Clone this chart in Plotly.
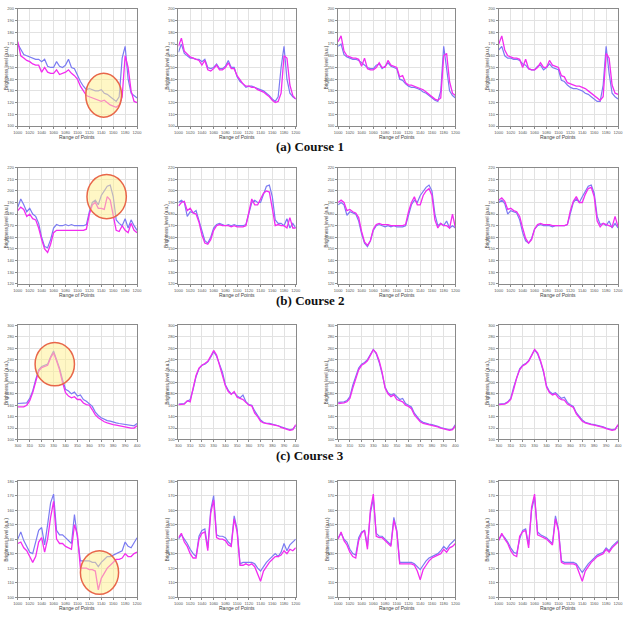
import plotly.graph_objects as go
from plotly.subplots import make_subplots

# ---------------- data ----------------
x_course1 = list(range(1000, 1201, 5))
x_course2 = list(range(1000, 1201, 5))
x_course3 = [300 + 2.5 * i for i in range(41)]
x_course4 = list(range(1000, 1201, 5))

c1_p1_blue = [170,165,161,160,159,158,157,157,155,157,151,150,150,155,151,150,152,157,150,149,143,138,134,131,132,131,130,130,131,128,127,125,123,121,125,158,168,140,128,126,124]
c1_p1_mag  = [172,160,158,156,155,153,152,152,146,150,146,145,145,148,144,145,146,148,145,143,140,134,130,126,125,124,123,122,121,122,120,118,117,116,118,125,160,150,130,121,120]
c1_p2_blue = [163,170,162,160,158,158,157,157,155,157,150,149,150,153,149,149,151,156,150,150,142,138,136,133,134,134,133,132,131,130,128,126,123,121,125,150,168,140,128,125,123]
c1_p2_mag  = [168,175,164,161,159,158,157,156,152,156,148,147,149,152,148,148,150,154,149,149,143,139,136,134,134,133,133,131,130,129,127,125,122,120,121,128,160,158,135,126,123]
c1_p3_blue = [168,170,161,159,158,157,157,156,154,152,150,149,149,152,153,149,151,154,151,150,149,140,139,136,134,133,133,132,131,129,128,126,124,122,121,130,168,150,130,126,124]
c1_p3_mag  = [172,177,164,160,159,158,158,157,151,158,149,148,148,150,154,150,150,156,152,151,150,142,143,137,135,135,134,133,132,131,129,127,125,123,122,124,160,162,138,128,126]
c1_p4_blue = [165,168,160,158,158,157,157,156,153,152,149,148,148,151,152,148,150,153,150,149,148,139,138,135,133,132,132,131,130,128,127,125,123,121,121,135,168,145,128,125,123]
c1_p4_mag  = [170,177,165,160,159,158,158,157,150,157,149,148,148,150,154,150,150,156,152,151,150,143,142,137,136,135,134,134,133,132,130,128,126,124,122,125,162,158,135,128,127]

c2_p1_blue = [186,193,188,182,185,180,178,172,160,152,151,158,168,171,170,170,171,170,171,170,170,170,170,171,182,190,192,188,196,200,204,205,195,175,172,170,176,168,175,170,166]
c2_p1_mag  = [183,186,184,178,180,176,175,168,158,150,147,154,164,166,166,166,166,166,166,166,166,166,166,167,180,188,190,185,185,184,195,192,180,166,165,170,166,164,172,166,164]
c2_p2_blue = [190,192,190,178,182,181,183,175,165,157,155,160,168,171,172,171,170,171,170,171,170,170,170,171,180,190,192,190,190,198,204,205,195,175,172,172,170,176,168,172,168]
c2_p2_mag  = [187,190,191,183,185,181,180,173,162,155,154,158,166,170,171,170,170,170,169,170,169,169,169,170,183,193,188,188,193,198,200,199,185,170,171,170,170,168,177,168,168]
c2_p3_blue = [188,190,188,179,182,181,180,174,163,155,152,157,166,170,171,170,169,170,169,170,169,169,169,170,178,188,192,190,196,200,203,205,200,180,170,172,170,174,168,170,168]
c2_p3_mag  = [190,192,190,183,184,182,181,177,165,156,153,157,167,171,172,171,171,171,170,170,170,170,170,171,182,190,195,188,188,196,200,202,196,175,168,172,170,170,168,180,168]
c2_p4_blue = [190,192,189,180,183,182,181,175,164,157,155,159,167,170,171,170,170,170,169,170,170,170,170,171,180,190,193,190,195,199,204,205,198,178,171,172,170,174,168,172,168]
c2_p4_mag  = [192,194,191,184,185,183,182,178,168,159,155,158,167,171,172,171,171,171,170,170,170,170,170,171,183,191,195,190,190,197,202,203,195,174,169,172,171,170,169,178,169]

c3_p1_blue = [163,163,163,164,172,185,205,222,228,230,232,245,255,240,225,205,188,185,180,183,176,178,170,167,162,158,148,142,138,135,133,132,130,129,128,127,126,125,124,124,128]
c3_p1_mag  = [157,157,157,160,168,182,202,220,226,228,230,243,252,238,222,200,182,176,173,175,170,170,164,161,160,152,143,138,134,131,129,127,126,125,124,123,121,120,120,120,124]
c3_p2_blue = [162,162,163,167,170,188,210,224,230,232,236,244,254,246,232,218,196,186,180,182,176,173,178,166,161,160,150,142,134,130,128,128,127,126,124,122,120,118,117,118,124]
c3_p2_mag  = [161,161,162,168,166,190,212,225,230,233,237,246,256,248,230,216,194,184,179,184,174,172,170,165,160,159,146,140,132,129,128,128,127,125,124,121,119,117,116,117,126]
c3_p3_blue = [165,165,166,168,175,195,212,225,232,235,240,250,258,250,235,215,192,182,178,180,174,170,172,163,160,157,146,140,133,130,128,127,126,125,123,121,120,118,117,118,126]
c3_p3_mag  = [163,163,164,166,172,190,208,222,230,233,238,248,257,252,238,218,190,180,175,178,170,168,166,160,158,154,143,137,131,128,127,126,125,124,122,120,119,117,116,117,124]
c3_p4_blue = [162,162,163,166,172,192,210,224,230,233,238,248,257,250,236,218,194,184,180,182,176,172,174,165,161,158,147,140,134,130,128,127,126,125,124,122,120,118,117,118,125]
c3_p4_mag  = [161,161,162,165,170,188,208,222,229,232,237,247,258,252,238,220,192,182,178,180,173,170,169,162,159,156,145,139,132,129,127,126,125,124,123,121,119,117,116,117,126]

c4_p1_blue = [140,145,139,135,131,130,138,146,148,136,150,165,171,146,143,143,141,139,137,157,140,125,125,125,125,124,124,121,124,126,128,128,129,130,131,132,138,135,134,138,141]
c4_p1_mag  = [137,138,134,132,128,124,128,138,141,131,140,155,166,140,137,137,135,134,133,150,143,120,120,120,119,119,118,105,113,117,120,122,124,126,126,127,130,128,128,130,131]
c4_p2_blue = [140,143,140,137,133,130,128,142,146,147,134,160,170,143,142,142,141,138,136,156,147,123,124,124,124,124,123,120,118,121,124,126,128,130,128,131,137,132,136,138,140]
c4_p2_mag  = [141,144,138,135,130,127,127,140,144,145,132,158,167,141,140,140,139,136,135,154,145,122,122,123,122,123,121,116,111,118,121,124,126,128,128,129,132,130,133,132,134]
c4_p3_blue = [141,144,140,138,133,130,129,141,145,146,135,158,168,144,142,142,140,138,136,155,146,124,124,124,124,124,123,121,119,122,125,127,128,129,130,132,135,133,136,138,140]
c4_p3_mag  = [140,145,139,136,131,128,127,139,144,146,133,160,171,142,141,141,139,137,135,153,145,123,123,123,123,123,122,118,112,119,122,125,127,128,129,130,133,131,134,135,137]
c4_p4_blue = [140,143,141,138,134,131,130,140,146,147,136,160,169,145,143,142,141,139,137,156,147,125,124,124,124,124,123,120,117,120,123,125,127,129,130,131,134,132,135,137,139]
c4_p4_mag  = [139,144,140,137,132,129,128,142,145,146,134,162,171,143,142,141,140,138,136,154,146,124,123,123,123,123,122,116,111,118,121,124,126,128,129,130,133,131,134,136,138]

captions = ["(a) Course 1", "(b) Course 2", "(c) Course 3"]
x_title = "Range of Points"
y_title = "Brightness level (a.u.)"

rows_data = [
    (x_course1, [(c1_p1_blue, c1_p1_mag), (c1_p2_blue, c1_p2_mag), (c1_p3_blue, c1_p3_mag), (c1_p4_blue, c1_p4_mag)]),
    (x_course2, [(c2_p1_blue, c2_p1_mag), (c2_p2_blue, c2_p2_mag), (c2_p3_blue, c2_p3_mag), (c2_p4_blue, c2_p4_mag)]),
    (x_course3, [(c3_p1_blue, c3_p1_mag), (c3_p2_blue, c3_p2_mag), (c3_p3_blue, c3_p3_mag), (c3_p4_blue, c3_p4_mag)]),
    (x_course4, [(c4_p1_blue, c4_p1_mag), (c4_p2_blue, c4_p2_mag), (c4_p3_blue, c4_p3_mag), (c4_p4_blue, c4_p4_mag)]),
]

x_ranges = [(1000, 1200, 20), (1000, 1200, 20), (300, 400, 10), (1000, 1200, 20)]
y_ranges = [(100, 200, 10), (120, 220, 10), (100, 300, 20), (100, 180, 10)]

# highlight ellipses (data coords in first column of each row)
highlights = [
    (1114, 1174, 107.5, 145),
    (1116, 1182, 176, 214),
    (314.5, 347.5, 194, 270),
    (1105, 1169, 102, 132),
]

# ---------------- layout geometry (pixels) ----------------
W, H = 627, 619
col_px = [(14, 135), (177, 296), (339, 458), (502, 623)]
row_px = [(6, 124), (166, 283), (325, 440), (482, 599)]
caption_y_px = [145, 299.5, 456]

fig = make_subplots(rows=4, cols=4)

BLUE = "#7B7BF2"
MAG = "#F22CF0"

for r in range(4):
    xs, panels = rows_data[r]
    for c in range(4):
        blue, mag = panels[c]
        fig.add_trace(go.Scatter(x=xs, y=blue, mode="lines",
                                 line=dict(color=BLUE, width=1.2), showlegend=False),
                      row=r + 1, col=c + 1)
        fig.add_trace(go.Scatter(x=xs, y=mag, mode="lines",
                                 line=dict(color=MAG, width=1.3), showlegend=False),
                      row=r + 1, col=c + 1)

annotations = []
shapes = []
for r in range(4):
    for c in range(4):
        n = r * 4 + c + 1
        xa = "xaxis" if n == 1 else f"xaxis{n}"
        ya = "yaxis" if n == 1 else f"yaxis{n}"
        x0p, x1p = col_px[c]
        y0p, y1p = row_px[r]
        xr0, xr1, xd = x_ranges[r]
        yr0, yr1, yd = y_ranges[r]
        fig.layout[xa].update(
            domain=[x0p / W, x1p / W], range=[xr0, xr1], dtick=xd, tick0=xr0,
            showgrid=True, gridcolor="#e2e2e2", gridwidth=1,
            showline=True, linecolor="#8a8a8a", linewidth=1, mirror=True,
            ticks="outside", ticklen=2, tickcolor="#8a8a8a",
            tickfont=dict(size=4, color="#555", family="Arial"), zeroline=False)
        fig.layout[ya].update(
            domain=[1 - y1p / H, 1 - y0p / H], range=[yr0, yr1], dtick=yd, tick0=yr0,
            showgrid=True, gridcolor="#e2e2e2", gridwidth=1,
            showline=True, linecolor="#8a8a8a", linewidth=1, mirror=True,
            ticks="outside", ticklen=2, tickcolor="#8a8a8a",
            tickfont=dict(size=4, color="#555", family="Arial"), zeroline=False)
        # y title
        annotations.append(dict(text=y_title, xref="paper", yref="paper",
                                x=(x0p - 11.5) / W, y=1 - (y0p + y1p) / 2 / H,
                                textangle=-90, showarrow=False,
                                font=dict(size=4.5, color="#444", family="Arial"),
                                xanchor="center", yanchor="middle"))
        if r != 2:
            annotations.append(dict(text=x_title, xref="paper", yref="paper",
                                    x=(x0p + x1p) / 2 / W, y=1 - (y1p + 11) / H,
                                    showarrow=False,
                                    font=dict(size=5, color="#444", family="Arial"),
                                    xanchor="center", yanchor="middle"))
    # highlight
    n = r * 4 + 1
    xref = "x" if n == 1 else f"x{n}"
    yref = "y" if n == 1 else f"y{n}"
    hx0, hx1, hy0, hy1 = highlights[r]
    shapes.append(dict(type="circle", xref=xref, yref=yref,
                       x0=hx0, x1=hx1, y0=hy0, y1=hy1, layer="above",
                       fillcolor="rgba(255,240,140,0.5)",
                       line=dict(color="#E8674A", width=1.5)))

for i, cap in enumerate(captions):
    annotations.append(dict(text=f"<b>{cap}</b>", xref="paper", yref="paper",
                            x=310.5 / W, y=1 - caption_y_px[i] / H, showarrow=False,
                            font=dict(size=13, color="#111", family="Liberation Serif"),
                            xanchor="center", yanchor="middle"))

fig.update_layout(width=W, height=H, margin=dict(l=0, r=0, t=0, b=0),
                  paper_bgcolor="white", plot_bgcolor="white",
                  annotations=annotations, shapes=shapes, showlegend=False)

fig.write_html("out.html")
